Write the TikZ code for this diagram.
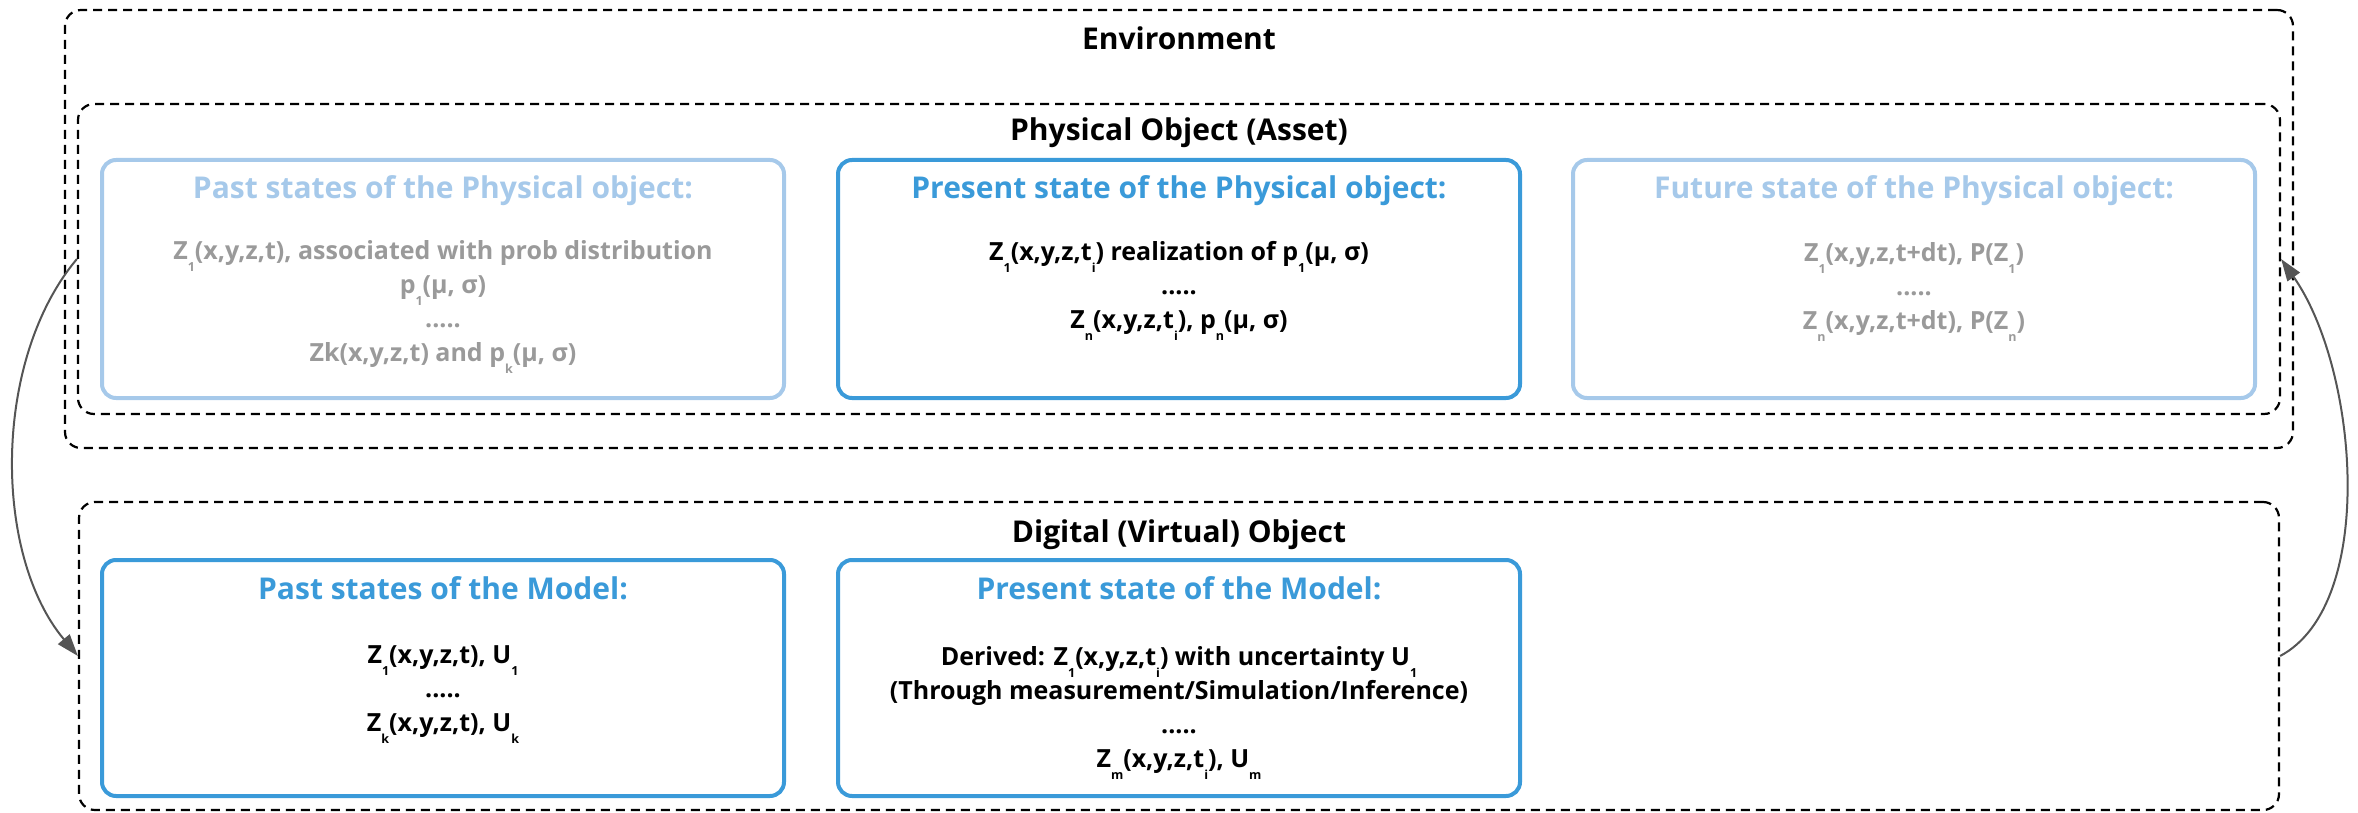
\documentclass[tikz,border=0pt]{standalone}
\usepackage{fontspec}
\usepackage{graphicx}
\setmainfont{Open Sans}
\usetikzlibrary{arrows.meta}

\definecolor{brightblue}{HTML}{3A9AD9}
\definecolor{paleblue}{HTML}{A6C9EA}
\definecolor{paletext}{HTML}{9A9A9A}
\definecolor{linkgray}{HTML}{555555}

% low-set index used throughout the state formulas
\newcommand\ix[1]{\raisebox{-0.5em}{\scalebox{0.5}{#1}}}

\tikzset{
  container/.style={draw=black, line width=2.2pt, dash pattern=on 9pt off 6pt,
    rounded corners=16pt, inner sep=0pt},
  statebox/.style={draw=brightblue, line width=4pt, rounded corners=14pt,
    inner sep=0pt, minimum width=682pt},
  fadedbox/.style={statebox, draw=paleblue},
  heading/.style={anchor=base, font=\fontsize{30}{36}\selectfont\bfseries, text=black, inner sep=0pt},
  boxtitle/.style={anchor=base, font=\fontsize{30}{36}\selectfont\bfseries, text=brightblue, inner sep=0pt},
  fadedtitle/.style={boxtitle, text=paleblue},
  content/.style={anchor=north, align=center, font=\fontsize{25}{34}\selectfont\bfseries,
    text=black, inner sep=0pt},
  fadedcontent/.style={content, text=paletext},
  link/.style={draw=linkgray, line width=2pt, -{Triangle[length=22pt,width=15pt]}}
}

\begin{document}
% y grows downwards here, so polar angles below turn clockwise on the page
\begin{tikzpicture}[x=1pt, y=-1pt]
\useasboundingbox (0,0) rectangle (2358,813);

% nested dashed containers
\node[container, minimum width=2228pt, minimum height=438pt] (env) at (1179,229) {};
\node[container, minimum width=2202pt, minimum height=310pt] (phys) at (1179,259) {};
\node[container, minimum width=2200pt, minimum height=308pt] (dig) at (1179,656) {};

\node[heading] (envtitle) at (1179,50) {Environment};
\node[heading] (phystitle) at (1179,141) {Physical Object (Asset)};
\node[heading] (digtitle) at (1179,542) {Digital (Virtual) Object};

% states of the physical object
\node[fadedbox, minimum height=238pt] (ppast) at (443,279) {};
\node[statebox, minimum height=238pt] (pnow) at (1179,279) {};
\node[fadedbox, minimum height=238pt] (pnext) at (1914,279) {};

\node[fadedtitle] (ppastt) at (443,199) {Past states of the Physical object:};
\node[boxtitle] (pnowt) at (1179,199) {Present state of the Physical object:};
\node[fadedtitle] (pnextt) at (1914,199) {Future state of the Physical object:};

\node[fadedcontent] (ppastc) at (443,229) {\rule{0pt}{30pt}Z\ix{1}(x,y,z,t), associated with prob distribution\\
  p\ix{1}(μ, σ)\\ .....\\ Zk(x,y,z,t) and p\ix{k}(μ, σ)};
\node[content] (pnowc) at (1179,230) {\rule{0pt}{30pt}Z\ix{1}(x,y,z,t\ix{i}) realization of p\ix{1}(μ, σ)\\
  .....\\ Z\ix{n}(x,y,z,t\ix{i}), p\ix{n}(μ, σ)};
\node[fadedcontent] (pnextc) at (1914,231) {\rule{0pt}{30pt}Z\ix{1}(x,y,z,t+dt), P(Z\ix{1})\\
  .....\\ Z\ix{n}(x,y,z,t+dt), P(Z\ix{n})};

% states of the model
\node[statebox, minimum height=236pt] (mpast) at (443,678) {};
\node[statebox, minimum height=236pt] (mnow) at (1179,678) {};

\node[boxtitle] (mpastt) at (443,599) {Past states of the Model:};
\node[boxtitle] (mnowt) at (1179,599) {Present state of the Model:};

\node[content] (mpastc) at (443,633) {\rule{0pt}{30pt}Z\ix{1}(x,y,z,t), U\ix{1}\\
  .....\\ Z\ix{k}(x,y,z,t), U\ix{k}};
\node[content] (mnowc) at (1179,635) {\rule{0pt}{30pt}Derived: Z\ix{1}(x,y,z,t\ix{i}) with uncertainty U\ix{1}\\
  (Through measurement/Simulation/Inference)\\ .....\\ Z\ix{m}(x,y,z,t\ix{i}), U\ix{m}};

% synchronisation links between asset and model
\draw[link] (phys.west) .. controls +(130:132) and +(230:132) .. (dig.west);
\draw[link] (dig.east) .. controls +(-28:110) and +(55:135) .. (phys.east);
\end{tikzpicture}
\end{document}
